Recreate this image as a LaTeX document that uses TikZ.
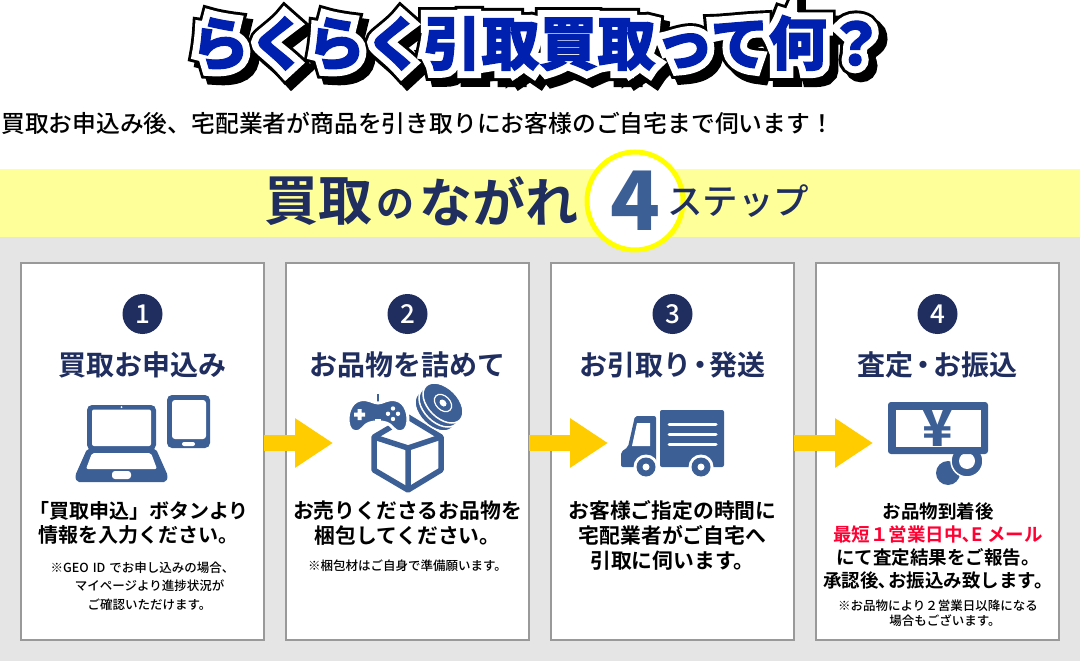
\documentclass[tikz,border=0pt]{standalone}
\usepackage{fontspec}
\newfontfamily\jpfont{Noto Sans CJK JP}
\newfontfamily\jpmed[UprightFont={* Medium}]{Noto Sans CJK JP}
\newfontfamily\jpbold[UprightFont={* Bold}]{Noto Sans CJK JP}
\newfontfamily\jpblack[UprightFont={* Black}]{Noto Sans CJK JP}
\newfontfamily\titleink[UprightFont={* Black},FakeBold=2]{Noto Sans CJK JP}
\newfontfamily\titlehalo[UprightFont={* Black},FakeBold=26]{Noto Sans CJK JP}
\newfontfamily\titleedge[UprightFont={* Black},FakeBold=36]{Noto Sans CJK JP}
\usetikzlibrary{arrows.meta,shapes.geometric}
\definecolor{inkblue}{HTML}{1F2D5F}
\definecolor{iconblue}{HTML}{3C5F96}
\definecolor{titleblue}{HTML}{0020B0}
\definecolor{bandyellow}{HTML}{FFFF99}
\definecolor{ringyellow}{HTML}{FFFF00}
\definecolor{arrowyellow}{HTML}{FFCC00}
\definecolor{floorgrey}{HTML}{E5E5E5}
\definecolor{cardgrey}{HTML}{999999}
\definecolor{alertred}{HTML}{FF0033}
\tikzset{
    cardbox/.style={draw=cardgrey,fill=white,line width=2pt,minimum width=243pt,minimum height=377pt,outer sep=0pt,inner sep=0pt},
    numdot/.style={circle,fill=inkblue,text=white,minimum size=40pt,inner sep=0pt,font=\jpmed\fontsize{26}{26}\selectfont},
    cardhead/.style={text=inkblue,inner sep=0pt,font=\jpbold\fontsize{28}{30}\selectfont},
    bodytext/.style={align=center,inner sep=0pt,font=\jpbold\fontsize{20.8}{24.8}\selectfont},
    smallbody/.style={align=center,inner sep=0pt,font=\jpbold\fontsize{18.5}{23.3}\selectfont},
    notetext/.style={align=center,inner sep=0pt,font=\jpmed\fontsize{12.5}{18.5}\selectfont},
    flowarrow/.style={draw=arrowyellow,line width=16pt,-{Triangle[length=38pt,width=47pt,fill=arrowyellow]}},
    iconline/.style={draw=iconblue,line width=5.5pt,line join=round},
    titletext/.style={inner sep=0pt}
}
\begin{document}
\begin{tikzpicture}[x=1pt,y=-1pt]
    \useasboundingbox (0,0) rectangle (1080,661);
    \fill[white] (0,0) rectangle (1080,169);
    \fill[bandyellow] (0,169) rectangle (1080,237);
    \fill[floorgrey] (0,237) rectangle (1080,661);
    % title
    \node[titletext,text=black] (titleshadow) at (544,49) {\titleedge\fontsize{58}{60}\selectfont らくらく引取買取って何？};
    \node[titletext,text=black] (titleedge) at (538,43) {\titleedge\fontsize{58}{60}\selectfont らくらく引取買取って何？};
    \node[titletext,text=white] (titlehalo) at (538,43) {\titlehalo\fontsize{58.02}{60}\selectfont らくらく引取買取って何？};
    \node[titletext,text=titleblue] (titlemain) at (538,43) {\titleink\fontsize{58.04}{60}\selectfont らくらく引取買取って何？};
    \node[anchor=west,inner sep=0pt,font=\jpmed\fontsize{23.8}{26}\selectfont] (subline) at (1,123) {買取お申込み後、宅配業者が商品を引き取りにお客様のご自宅まで伺います！};
    % band
    \node[draw=ringyellow,fill=white,line width=5pt,ellipse,minimum width=96pt,minimum height=98pt,inner sep=0pt,text=iconblue,font=\jpblack\fontsize{82}{82}\selectfont] (bandring) at (635,201) {4};
    \node[anchor=east,inner sep=0pt,text=inkblue,font=\jpbold\fontsize{54}{56}\selectfont] (bandone) at (373,201) {買取};
    \node[anchor=west,inner sep=0pt,text=inkblue,font=\jpbold\fontsize{38}{40}\selectfont] (bandtwo) at (376,204) {の};
    \node[anchor=west,inner sep=0pt,text=inkblue,font=\jpbold\fontsize{53}{56}\selectfont] (bandthree) at (419,201) {ながれ};
    \node[anchor=west,inner sep=0pt,text=inkblue,font=\jpmed\fontsize{35.5}{40}\selectfont] (bandfour) at (667,201) {ステップ};
    % cards
    \foreach \n/\x/\heading in {1/142.5/買取お申込み,2/407.5/お品物を詰めて,3/672.5/お引取り\kern-5pt・\kern-5pt発送,4/937.5/査定\kern-4pt・\kern-4ptお振込}{
        \node[cardbox] (card\n) at (\x,451.5) {};
        \node[numdot] (dot\n) at (\x,314) {\n};
        \node[cardhead] (head\n) at (\x,365) {\heading};
    }
    \node[bodytext,font=\jpbold\fontsize{20}{24.8}\selectfont] (body1) at (139,523) {「買取申込」ボタンより\\情報を入力ください。};
    \node[notetext] (note1) at (142.5,586) {※GEO\kern4pt ID\kern4pt でお申し込みの場合、\\\hspace*{14pt}マイページより進捗状況が\\\hspace*{14pt}ご確認いただけます。};
    \node[bodytext] (body2) at (407.5,523.5) {お売りくださるお品物を\\梱包してください。};
    \node[notetext] (note2) at (407.5,566) {※梱包材はご自身で準備願います。};
    \node[bodytext] (body3) at (672.5,535.5) {お客様ご指定の時間に\\宅配業者がご自宅へ\\引取に伺います。};
    \node[smallbody] (body4) at (938,546) {お品物到着後\\\textcolor{alertred}{最短１営業日中､E メール}\\にて査定結果をご報告。\\承認後､お振込み致します。};
    \node[notetext,font=\jpmed\fontsize{12.5}{15.5}\selectfont] (note4) at (938,613.5) {※お品物により２営業日以降になる\\\hspace*{14pt}場合もございます。};
    % arrows
    \coordinate (aim1) at (333,443);
    \coordinate (aim2) at (608,443);
    \coordinate (aim3) at (873,443);
    \foreach \n in {1,2,3}{
        \draw[flowarrow] (card\n.east |- aim\n) -- (aim\n);
    }
    % laptop and tablet
    \fill[iconblue,rounded corners=5pt] (87,405) rectangle (156,450);
    \fill[white,rounded corners=2pt] (92,409.5) rectangle (151,446);
    \fill[white] (121.5,407.2) circle (1);
    \fill[iconblue,rounded corners=2pt] (87,449) -- (156,449) -- (168,476) -- (166,482) -- (77,482) -- (75,476) -- cycle;
    \fill[white,rounded corners=2pt] (92,453) -- (151,453) -- (157,469) -- (86,469) -- cycle;
    \fill[white,rounded corners=3pt] (112,471) rectangle (131,479);
    \fill[iconblue,rounded corners=5pt] (167,395) rectangle (210,448);
    \fill[white,rounded corners=3pt] (172,400) rectangle (206,439);
    \fill[white,rounded corners=2pt] (182,442) rectangle (195,446);
    % box, pad and discs
    \draw[iconline,fill=white] (408,417) -- (374,437) -- (374,470) -- (408,490) -- (441,470) -- (441,437) -- cycle;
    \draw[iconline] (374,437) -- (408,448) -- (441,437) (408,448) -- (408,490);
    \draw[iconblue,line width=2pt] (378,394) -- (378,404);
    \draw[white,line width=3pt,fill=iconblue] (360,400) .. controls (368,398) and (373,403) .. (378,403) .. controls (383,403) and (388,398) .. (396,400) .. controls (406,402) and (410,416) .. (407,426) .. controls (404,434) and (397,433) .. (393,428) .. controls (389,423) and (385,422) .. (378,422) .. controls (371,422) and (367,423) .. (363,428) .. controls (359,433) and (352,434) .. (349,426) .. controls (346,416) and (350,402) .. (360,400) -- cycle;
    \fill[white] (357.5,409) rectangle (361.5,420) (354,412.5) rectangle (365,416.5);
    \fill[white] (375,418.5) rectangle (381,420.5);
    \foreach \bx/\by in {393/408.5,393/419,388/413.8,398/413.8}{
        \fill[white] (\bx,\by) circle (2.2);
    }
    \foreach \dx/\dy in {-9/9,-5/5,-1/1}{
        \filldraw[draw=white,line width=1.5pt,fill=iconblue] (444+\dx,402+\dy) ellipse [x radius=24,y radius=15,rotate=-45];
    }
    \draw[white,line width=1.2pt] (443,403) ellipse [x radius=10,y radius=7,rotate=-45];
    \fill[white] (443,403) ellipse [x radius=4,y radius=3,rotate=-45];
    % truck
    \fill[iconblue,rounded corners=2pt] (660,410) rectangle (724,467);
    \foreach \ly in {424,434,444}{
        \draw[white,line width=3pt,line cap=round] (669,\ly) -- (716,\ly);
    }
    \fill[iconblue,rounded corners=2pt] (621,467) -- (621,452) -- (628,447) -- (635,416) -- (656,416) -- (656,467) -- cycle;
    \fill[white] (637,423) -- (650,423) -- (650,446) -- (632,446) -- cycle;
    \foreach \wx in {646,701}{
        \fill[white] (\wx,467) circle (12.5);
        \fill[iconblue] (\wx,467) circle (9.5);
        \fill[white] (\wx,467) circle (3.5);
    }
    % monitor and coins
    \fill[iconblue] (948,473) circle (12);
    \filldraw[draw=white,fill=iconblue,line width=1.5pt] (967,461) circle (16);
    \fill[white] (967,461) circle (8);
    \fill[iconblue,rounded corners=3pt] (888,402) rectangle (988,454);
    \fill[white] (896,410) rectangle (981,447);
    \node[inner sep=0pt,text=iconblue,font=\jpblack\fontsize{50}{50}\selectfont] (yenmark) at (938,428) {¥};
\end{tikzpicture}
\end{document}
